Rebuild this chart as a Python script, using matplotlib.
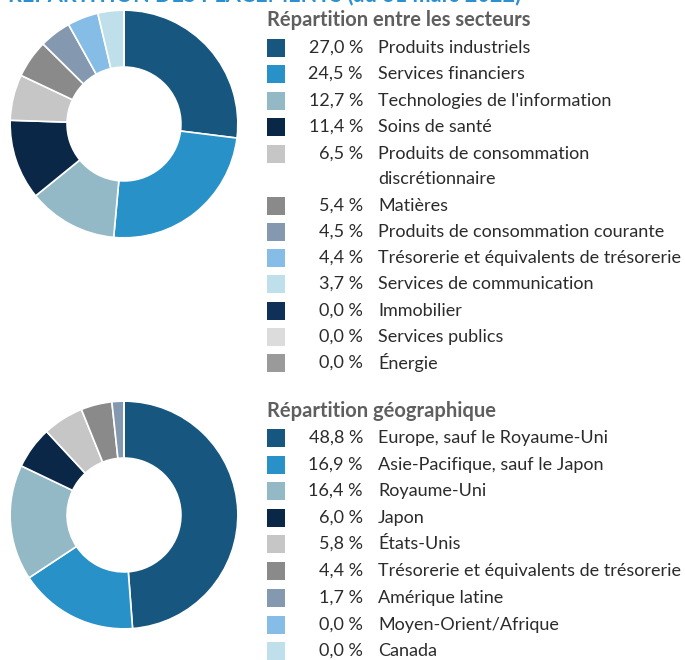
"""
Répartition des placements — deux anneaux (secteurs / géographie)
"""

import matplotlib
matplotlib.use("Agg")
import matplotlib.pyplot as plt
from matplotlib.patches import Rectangle

plt.rcParams["font.family"] = ["Lato", "DejaVu Sans"]

# Répartition entre les secteurs
secteurs = [
    "Produits industriels",
    "Services financiers",
    "Technologies de l'information",
    "Soins de santé",
    "Produits de consommation\ndiscrétionnaire",
    "Matières",
    "Produits de consommation courante",
    "Trésorerie et équivalents de trésorerie",
    "Services de communication",
    "Immobilier",
    "Services publics",
    "Énergie",
]
secteurs_pct = [27.0, 24.5, 12.7, 11.4, 6.5, 5.4, 4.5, 4.4, 3.7, 0.0, 0.0, 0.0]
secteurs_couleurs = ["#17577f", "#2891c8", "#93b8c6", "#0b2747", "#c6c6c6", "#8a8a8a",
                     "#8499b0", "#86bde6", "#bfdfea", "#0f3158", "#dcdcdc", "#9a9a9a"]

# Répartition géographique
regions = [
    "Europe, sauf le Royaume-Uni",
    "Asie-Pacifique, sauf le Japon",
    "Royaume-Uni",
    "Japon",
    "États-Unis",
    "Trésorerie et équivalents de trésorerie",
    "Amérique latine",
    "Moyen-Orient/Afrique",
    "Canada",
]
regions_pct = [48.8, 16.9, 16.4, 6.0, 5.8, 4.4, 1.7, 0.0, 0.0]
regions_couleurs = ["#17577f", "#2891c8", "#93b8c6", "#0b2747", "#c6c6c6", "#8a8a8a",
                    "#8499b0", "#86bde6", "#bfdfea"]

W, H = 685, 660
TEXTE = "#2b2b2b"
TITRE = "#5f5f5f"
FS = 13

fig = plt.figure(figsize=(W / 100, H / 100), dpi=100)

# calque en pixels pour le texte et la légende
lay = fig.add_axes([0, 0, 1, 1])
lay.set_xlim(0, W)
lay.set_ylim(H, 0)
lay.axis("off")


def donut(cx, cy, r, valeurs, couleurs):
    ax = fig.add_axes([(cx - r) / W, (H - cy - r) / H, 2 * r / W, 2 * r / H])
    ax.pie(valeurs, colors=couleurs, startangle=90, counterclock=False,
           wedgeprops=dict(width=0.5, edgecolor="white", linewidth=1.2))
    ax.set_xlim(-1.01, 1.01)
    ax.set_ylim(-1.01, 1.01)
    ax.set_aspect("equal")
    ax.axis("off")


def legende(y_titre, titre, libelles, valeurs, couleurs, ys):
    lay.text(267, y_titre, titre, fontsize=14.5, fontweight="bold", color=TITRE,
             va="center", ha="left")
    for lib, val, col, y in zip(libelles, valeurs, couleurs, ys):
        lay.add_patch(Rectangle((267, y - 9), 18, 18, facecolor=col, edgecolor="none"))
        lay.text(363, y, f"{val:.1f} %".replace(".", ","), fontsize=FS, color=TEXTE,
                 va="center", ha="right")
        for i, ligne in enumerate(lib.split("\n")):
            lay.text(378, y + 25 * i, ligne, fontsize=FS, color=TEXTE,
                     va="center", ha="left")


# en-tête coupé en haut de l'image
lay.text(8, 6, "RÉPARTITION DES PLACEMENTS (au 31 mars 2022)", fontsize=15.6,
         fontweight="bold", color="#2b8fd0", va="bottom", ha="left")

donut(124, 124, 115, secteurs_pct, secteurs_couleurs)
donut(124, 515, 115, regions_pct, regions_couleurs)

ys_haut = [48, 74, 101, 127, 154, 206, 232, 258, 284, 311, 337, 363]
ys_bas = [438, 465, 491, 518, 544, 571, 598, 625, 651]

legende(20, "Répartition entre les secteurs", secteurs, secteurs_pct, secteurs_couleurs, ys_haut)
legende(411, "Répartition géographique", regions, regions_pct, regions_couleurs, ys_bas)

fig.savefig("out.png", dpi=100)
plt.close(fig)
